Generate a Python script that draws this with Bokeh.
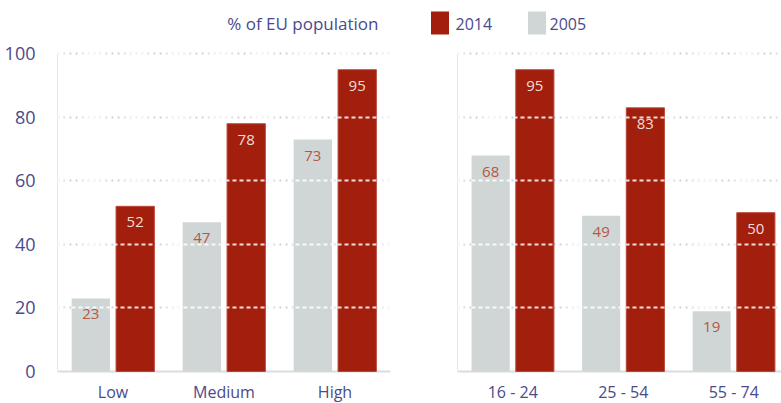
from bokeh.plotting import figure
from bokeh.models import (ColumnDataSource, Range1d, FixedTicker, LinearAxis, Grid, Span)
from bokeh.transform import dodge
from bokeh.layouts import column, row
from bokeh.core.properties import value
from bokeh.embed import file_html
from bokeh.resources import INLINE

# ---- data ----
skills = ["Low", "Medium", "High"]
skills_2005 = [23, 47, 73]
skills_2014 = [52, 78, 95]

ages = ["16 - 24", "25 - 54", "55 - 74"]
ages_2005 = [68, 49, 19]
ages_2014 = [95, 83, 50]

y_ticks = [0, 20, 40, 60, 80, 100]
legend_title = "% of EU population"
series_names = ["2014", "2005"]

# ---- style ----
RED = "#a21f0d"
RED_EDGE = "#b8473a"
GREY = "#d0d6d6"
AXIS_TXT = "#4a4a8c"
LBL_2005 = "#b65645"
LBL_2014 = "#f3dcd6"
FONT = "Open Sans"


def make_panel(cats, v05, v14, width, x_end, show_labels, border_left, border_right):
    p = figure(width=width, height=363, x_range=Range1d(0, x_end), y_range=Range1d(-10.07, 102),
               output_backend="svg", toolbar_location=None, x_axis_location=None,
               y_axis_location=None, min_border_left=border_left, min_border_right=border_right,
               min_border_top=7, min_border_bottom=0)
    p.outline_line_color = None
    p.background_fill_color = "white"
    p.border_fill_color = "white"
    p.xgrid.visible = False
    p.ygrid.visible = False

    xs = [i + 0.5 for i in range(len(cats))]
    src = ColumnDataSource(dict(x=xs, cat=cats, v05=v05, v14=v14,
                                t05=[str(v) for v in v05], t14=[str(v) for v in v14]))

    # underlay dotted grid
    g1 = Grid(dimension=1, ticker=FixedTicker(ticks=[t for t in y_ticks if t > 0]),
              grid_line_color="#cfcfcf", grid_line_dash="2 4", grid_line_width=2,
              level="underlay")
    p.add_layout(g1)

    # baseline
    p.add_layout(Span(location=0, dimension="width", line_color="#dcdcdc", line_width=2,
                      level="underlay"))

    p.vbar(x=dodge("x", -0.2, range=p.x_range), top="v05", width=0.345, bottom=0,
           source=src, fill_color=GREY, line_color=None)
    p.vbar(x=dodge("x", 0.2, range=p.x_range), top="v14", width=0.345, bottom=0,
           source=src, fill_color=RED, line_color=RED_EDGE, line_width=1)

    # overlay white dashed grid (visible only on bars)
    g2 = Grid(dimension=1, ticker=FixedTicker(ticks=[t for t in y_ticks if t > 0]),
              grid_line_color="white", grid_line_dash="4 3", grid_line_width=2,
              grid_line_alpha=0.85, level="annotation")
    p.add_layout(g2)

    r1 = p.text(x=dodge("x", -0.2, range=p.x_range), y="v05", text="t05", source=src,
                text_align="center", text_baseline="middle", y_offset=16,
                text_font=value(FONT), text_font_size="15px", text_color=LBL_2005)
    r2 = p.text(x=dodge("x", 0.2, range=p.x_range), y="v14", text="t14", source=src,
                text_align="center", text_baseline="middle", y_offset=16,
                text_font=value(FONT), text_font_size="15px", text_color=LBL_2014)
    r1.level = "overlay"
    r2.level = "overlay"

    # category labels under the baseline
    p.text(x="x", y=0, text="cat", source=src, text_align="center", text_baseline="middle",
           y_offset=20, text_font=value(FONT), text_font_size="16px", text_color=AXIS_TXT)

    # y axis
    ya = LinearAxis(ticker=FixedTicker(ticks=y_ticks if show_labels else []), bounds=(0, 100))
    ya.axis_line_color = "#e8e8e8"
    ya.axis_line_width = 1
    ya.major_tick_line_color = None
    ya.minor_tick_line_color = None
    ya.major_label_text_font = FONT
    ya.major_label_text_font_size = "18px"
    ya.major_label_text_color = AXIS_TXT
    ya.major_label_standoff = 16
    p.add_layout(ya, "left")
    return p


left = make_panel(skills, skills_2005, skills_2014, 400, 3.0, True, 57, 10)
right = make_panel(ages, ages_2005, ages_2014, 381, 324 / 110.5, False, 57, 0)

# legend strip
leg = figure(width=781, height=40, x_range=Range1d(0, 781), y_range=Range1d(40, 0),
             output_backend="svg", toolbar_location=None, x_axis_location=None,
             y_axis_location=None, min_border=0)
leg.outline_line_color = None
leg.xgrid.visible = False
leg.ygrid.visible = False
leg.rect(x=[439.5, 536.5], y=[22.5, 22.5], width=18, height=23,
         fill_color=[RED, GREY], line_color=None)
leg.text(x=[378], y=[23], text=[legend_title], text_align="right", text_baseline="middle",
         text_font=value(FONT), text_font_size="17px", text_color=AXIS_TXT)
leg.text(x=[455, 549], y=[23, 23], text=series_names, text_align="left", text_baseline="middle",
         text_font=value(FONT), text_font_size="16px", text_color=AXIS_TXT)

layout = column(leg, row(left, right, spacing=0), spacing=0)

open("out.html", "w").write(file_html(layout, INLINE))
